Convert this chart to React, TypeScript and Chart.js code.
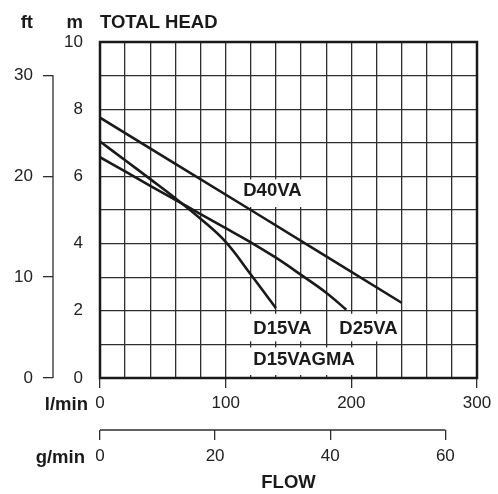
import React, { useEffect, useRef } from "react";
import { Chart, registerables } from "chart.js";

Chart.register(...registerables);

// ---- data ----
const flowD15VA = [0, 20, 40, 60, 80, 100, 120, 140];
const headD15VA = [7.04, 6.48, 5.92, 5.35, 4.74, 4.05, 3.08, 2.08];
const flowD25VA = [0, 20, 40, 60, 80, 100, 120, 140, 160, 180, 196];
const headD25VA = [6.57, 6.15, 5.72, 5.3, 4.88, 4.46, 4.04, 3.58, 3.07, 2.54, 2.03];
const flowD40VA = [0, 60, 120, 180, 240];
const headD40VA = [7.75, 6.37, 5.0, 3.62, 2.24];

const flowTicksLmin = [0, 100, 200, 300];
const headTicksM = [0, 2, 4, 6, 8, 10];

// curve labels (data units)
const labelTexts = ["D40VA", "D15VA", "D25VA", "D15VAGMA"];
const labelFlows = [114, 122, 190.4, 122];
const labelHeads = [5.56, 1.46, 1.46, 0.54];
// white boxes behind labels (data units)
const boxFrom = [102, 108, 182, 108];
const boxTo = [178, 178, 238, 212];
const boxLow = [5, 1, 1, 0];
const boxHigh = [6, 2, 2, 1];

const FONT = "'Liberation Sans', Arial, Helvetica, sans-serif";
const INK = "#1a1a1a";
const GRID = "#2e2e2e";

const pts = (xs: number[], ys: number[]) => xs.map((x, i) => ({ x, y: ys[i] }));

const decor = {
  id: "decor",
  beforeDatasetsDraw(chart: any) {
    const { ctx, scales } = chart;
    const x = scales.x, y = scales.y;
    ctx.save();
    ctx.fillStyle = "#fff";
    for (let i = 0; i < boxFrom.length; i++) {
      const x0 = x.getPixelForValue(boxFrom[i]);
      const x1 = x.getPixelForValue(boxTo[i]);
      const yt = y.getPixelForValue(boxHigh[i]) + 3;
      const yb = y.getPixelForValue(boxLow[i]) - 3;
      ctx.fillRect(x0, yt, x1 - x0, yb - yt);
    }
    ctx.fillStyle = INK;
    ctx.font = `bold 18.5px ${FONT}`;
    ctx.textAlign = "left";
    ctx.textBaseline = "middle";
    for (let i = 0; i < labelTexts.length; i++) {
      ctx.fillText(labelTexts[i], x.getPixelForValue(labelFlows[i]), y.getPixelForValue(labelHeads[i]));
    }
    ctx.restore();
  },
  afterDraw(chart: any) {
    const { ctx, chartArea, scales } = chart;
    const ft = scales.ft, gx = scales.gx, x = scales.x;
    ctx.save();
    // frame
    ctx.strokeStyle = INK;
    ctx.lineWidth = 2.5;
    ctx.strokeRect(chartArea.left, chartArea.top, chartArea.right - chartArea.left, chartArea.bottom - chartArea.top);
    // ft axis line
    ctx.lineWidth = 1.3;
    ctx.strokeStyle = GRID;
    ctx.beginPath();
    ctx.moveTo(ft.right, ft.getPixelForValue(30));
    ctx.lineTo(ft.right, ft.getPixelForValue(0));
    ctx.stroke();
    // g/min axis line
    ctx.beginPath();
    ctx.moveTo(gx.getPixelForValue(0), gx.top);
    ctx.lineTo(gx.getPixelForValue(60), gx.top);
    ctx.stroke();
    // titles
    ctx.fillStyle = INK;
    ctx.font = `bold 18.5px ${FONT}`;
    ctx.textBaseline = "alphabetic";
    ctx.textAlign = "right";
    ctx.fillText("ft", ft.right - 20, chartArea.top - 14);
    ctx.fillText("m", chartArea.left - 17, chartArea.top - 14);
    ctx.fillText("l/min", chartArea.left - 12, x.top + 32);
    ctx.fillText("g/min", chartArea.left - 15, gx.top + 33);
    ctx.textAlign = "left";
    ctx.fillText("TOTAL HEAD", chartArea.left, chartArea.top - 14);
    ctx.restore();
  },
};

export default function App() {
  const ref = useRef<HTMLCanvasElement>(null);
  useEffect(() => {
    if (!ref.current) return;
    const tickFont = { family: FONT, size: 17 };
    const lineDs = (label: string, data: any[], tension: number) => ({
      label,
      data,
      borderColor: INK,
      borderWidth: 2.6,
      pointRadius: 0,
      fill: false,
      tension,
      xAxisID: "x",
      yAxisID: "y",
    });
    const chart = new Chart(ref.current, {
      type: "line",
      data: {
        datasets: [
          lineDs("D40VA", pts(flowD40VA, headD40VA), 0),
          lineDs("D25VA", pts(flowD25VA, headD25VA), 0.4),
          lineDs("D15VA", pts(flowD15VA, headD15VA), 0.4),
        ] as any,
      },
      options: {
        animation: false,
        responsive: true,
        maintainAspectRatio: false,
        layout: { padding: { left: 13, right: 21, top: 42, bottom: 0 } },
        plugins: { legend: { display: false }, tooltip: { enabled: false } },
        scales: {
          x: {
            type: "linear",
            position: "bottom",
            min: 0,
            max: 300,
            ticks: {
              stepSize: 20,
              autoSkip: false,
              maxRotation: 0,
              padding: 5,
              color: "#222",
              font: tickFont,
              callback: (v: any) => (flowTicksLmin.includes(Number(v)) ? String(v) : ""),
            },
            grid: {
              color: GRID,
              lineWidth: 1.3,
              tickLength: 10,
              tickColor: (c: any) => (c.tick && flowTicksLmin.includes(c.tick.value) ? GRID : "rgba(0,0,0,0)"),
            },
            border: { display: false },
            afterFit: (s: any) => { s.height = 52; },
          },
          gx: {
            type: "linear",
            position: "bottom",
            min: 0,
            max: 65.5,
            ticks: { stepSize: 20, includeBounds: false, padding: 6, color: "#222", font: tickFont, maxRotation: 0 },
            grid: { drawOnChartArea: false, tickLength: 10, color: GRID, lineWidth: 1.3 },
            border: { display: false },
            title: { display: true, text: "FLOW", color: INK, font: { family: FONT, size: 18.5, weight: "bold" }, padding: 0 },
            afterFit: (s: any) => { s.height = 64; },
          },
          y: {
            type: "linear",
            position: "left",
            min: 0,
            max: 10,
            ticks: {
              stepSize: 1,
              autoSkip: false,
              padding: 17,
              color: "#222",
              font: tickFont,
              callback: (v: any) => (headTicksM.includes(Number(v)) ? String(v) : ""),
            },
            grid: { color: GRID, lineWidth: 1.3, drawTicks: false, tickLength: 0 },
            border: { display: false },
            afterFit: (s: any) => { s.width = 47; },
          },
          ft: {
            type: "linear",
            position: "left",
            min: 0,
            max: 33.3,
            ticks: { stepSize: 10, includeBounds: false, padding: 10, color: "#222", font: tickFont },
            grid: { drawOnChartArea: false, tickLength: 10, color: GRID, lineWidth: 1.3 },
            border: { display: false },
            afterFit: (s: any) => { s.width = 40; },
          },
        },
      } as any,
      plugins: [decor],
    });
    return () => chart.destroy();
  }, []);
  return (
    <div style={{ position: "fixed", left: 0, top: 0, width: 498, height: 494, background: "#fff" }}>
      <canvas ref={ref} />
    </div>
  );
}
